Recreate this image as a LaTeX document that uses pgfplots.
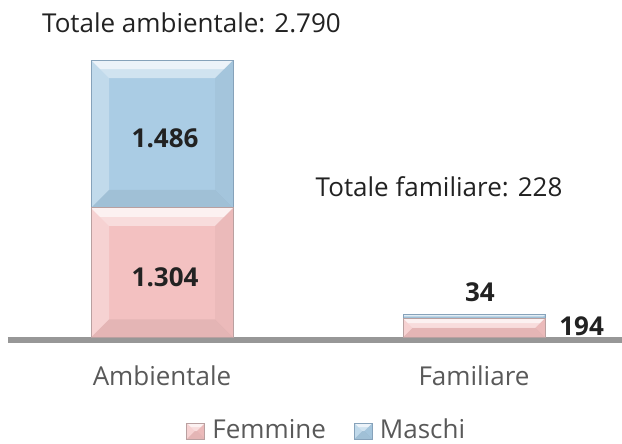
\documentclass[border=0pt]{standalone}
\usepackage{fontspec}
\setmainfont{Open Sans}
\usepackage{pgfplots}
\pgfplotsset{compat=1.18}
\definecolor{pinkbar}{HTML}{F3C1C1}
\definecolor{bluebar}{HTML}{AACCE4}
\definecolor{pinkedge}{HTML}{B9A0A0}
\definecolor{blueedge}{HTML}{86A2BA}
\definecolor{darktxt}{HTML}{222222}
\definecolor{cattxt}{HTML}{595959}
\definecolor{baseln}{HTML}{979797}
\newcommand\fs{\fontsize{13}{15.6}\selectfont}
% one bevel facet: colour, opacity, four points
\newcommand\bvface[6]{%
  \begin{pgfscope}\pgfsetfillcolor{#1}\pgfsetfillopacity{#2}%
  \pgfpathmoveto{#3}\pgfpathlineto{#4}\pgfpathlineto{#5}\pgfpathlineto{#6}%
  \pgfpathclose\pgfusepath{fill}\end{pgfscope}}
\tikzset{
  bevel/.style={
    path picture={%
      \pgfpointanchor{path picture bounding box}{south west}\pgfgetlastxy{\bxa}{\bya}%
      \pgfpointanchor{path picture bounding box}{north east}\pgfgetlastxy{\bxb}{\byb}%
      \pgfmathsetmacro{\bvd}{min(9,0.5*(\byb-\bya),0.5*(\bxb-\bxa))}%
      \pgfmathsetmacro{\bve}{0.5*\bvd}%
      \bvface{white}{0.45}{\pgfpoint{\bxa}{\byb}}{\pgfpoint{\bxb}{\byb}}{\pgfpoint{\bxb-\bvd pt}{\byb-\bvd pt}}{\pgfpoint{\bxa+\bvd pt}{\byb-\bvd pt}}%
      \bvface{white}{0.6}{\pgfpoint{\bxa}{\byb}}{\pgfpoint{\bxb}{\byb}}{\pgfpoint{\bxb-\bve pt}{\byb-\bve pt}}{\pgfpoint{\bxa+\bve pt}{\byb-\bve pt}}%
      \bvface{white}{0.28}{\pgfpoint{\bxa}{\byb}}{\pgfpoint{\bxa+\bvd pt}{\byb-\bvd pt}}{\pgfpoint{\bxa+\bvd pt}{\bya+\bvd pt}}{\pgfpoint{\bxa}{\bya}}%
      \bvface{black}{0.03}{\pgfpoint{\bxb}{\byb}}{\pgfpoint{\bxb-\bvd pt}{\byb-\bvd pt}}{\pgfpoint{\bxb-\bvd pt}{\bya+\bvd pt}}{\pgfpoint{\bxb}{\bya}}%
      \bvface{black}{0.06}{\pgfpoint{\bxa}{\bya}}{\pgfpoint{\bxa+\bvd pt}{\bya+\bvd pt}}{\pgfpoint{\bxb-\bvd pt}{\bya+\bvd pt}}{\pgfpoint{\bxb}{\bya}}%
    }
  }
}
\pgfplotsset{
  base/.style={
    at={(4pt,53.25pt)}, anchor=south west,
    scale only axis, width=307pt, height=149.19pt,
    xmin=-0.49359, xmax=1.47436, ymin=0, ymax=3000,
    ybar stacked, bar width=71pt,
    clip=false,
  },
  sq/.style={legend image code/.code={\draw[##1] (0pt,-5.3pt) rectangle (9pt,2.7pt);}},
}
\begin{document}
\begin{tikzpicture}
\useasboundingbox (0,0) rectangle (311pt,222pt);
\begin{axis}[base,
  axis y line=none, axis x line=bottom,
  x axis line style={-, line width=3pt, draw=baseln, yshift=-1.5pt},
  xtick={0,1}, xticklabels={Ambientale,Familiare}, major tick length=0pt,
  xticklabel style={anchor=base, yshift=-24.25pt, font=\fs, text=cattxt},
  legend columns=-1,
  legend style={draw=none, fill=none, font=\fs, text=cattxt,
    inner xsep=0pt, inner ysep=0pt, nodes={inner sep=0pt, text depth=0pt},
    at={(0.2899,-0.34352)}, anchor=south west,
    /tikz/every odd column/.append style={column sep=3.5pt},
    /tikz/every even column/.append style={column sep=14pt}},
]
\addplot[fill=pinkbar, draw=pinkedge, line width=0.5pt, bevel, sq] coordinates {(0,1304)};
\addlegendentry{Femmine}
\addplot[fill=bluebar, draw=blueedge, line width=0.5pt, bevel, sq] coordinates {(0,1486)};
\addlegendentry{Maschi}
\end{axis}
\begin{axis}[base, hide axis]
\addplot[fill=pinkbar, draw=pinkedge, line width=0.5pt, bevel] coordinates {(1,194)};
\addplot[fill=bluebar, draw=blueedge, line width=0.5pt, bevel] coordinates {(1,34)};
\node[anchor=base, font=\fs, text=darktxt] at (axis cs:0.0946,3071) {Totale ambientale: 2.790};
\node[anchor=base, font=\fs, text=darktxt] at (axis cs:0.888,1413) {Totale familiare: 228};
\node[anchor=base, font=\fs\bfseries, text=darktxt] at (axis cs:0.01,1915) {1.486};
\node[anchor=base, font=\fs\bfseries, text=darktxt] at (axis cs:0.01,508) {1.304};
\node[anchor=base, font=\fs\bfseries, text=darktxt] at (axis cs:1.019,357) {34};
\node[anchor=base, font=\fs\bfseries, text=darktxt] at (axis cs:1.345,25) {194};
\end{axis}
\end{tikzpicture}
\end{document}
